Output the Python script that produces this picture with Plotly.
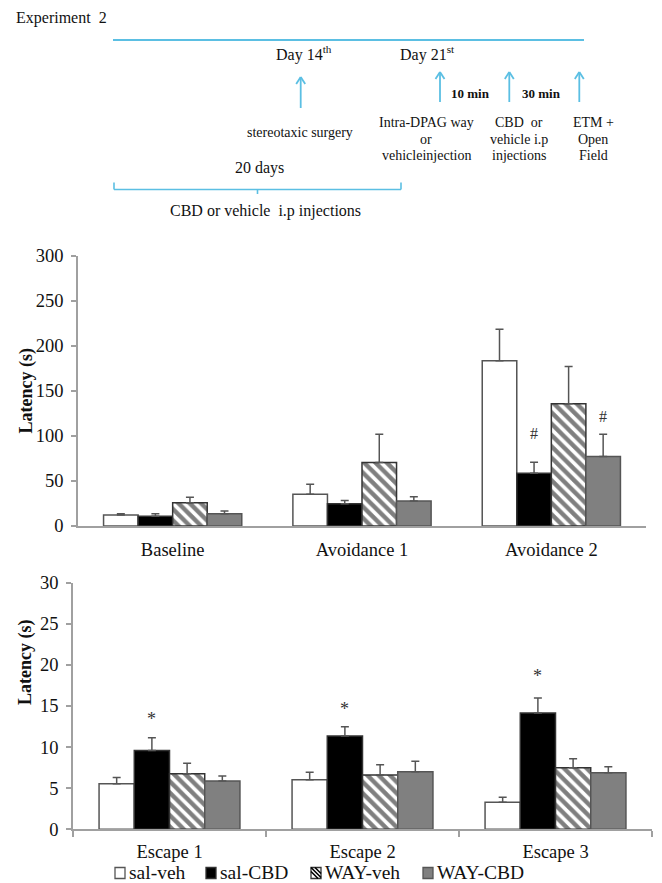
import plotly.graph_objects as go

W, H = 662, 883

# ---------------- data ----------------
phases = ["Baseline", "Avoidance 1", "Avoidance 2"]
escapes = ["Escape 1", "Escape 2", "Escape 3"]
groups = ["sal-veh", "sal-CBD", "WAY-veh", "WAY-CBD"]

avoid_sal_veh = [12.2, 35.2, 183.3]
avoid_sal_cbd = [10.7, 24.8, 58.5]
avoid_way_veh = [25.9, 70.4, 135.6]
avoid_way_cbd = [13.7, 27.8, 77.0]
avoid_err_sal_veh = [1.5, 11.1, 35.2]
avoid_err_sal_cbd = [3.0, 3.4, 12.3]
avoid_err_way_veh = [6.0, 31.5, 41.4]
avoid_err_way_cbd = [3.0, 4.8, 24.9]

esc_sal_veh = [5.55, 6.04, 3.28]
esc_sal_cbd = [9.6, 11.35, 14.15]
esc_way_veh = [6.77, 6.6, 7.5]
esc_way_cbd = [5.88, 7.01, 6.89]
esc_err_sal_veh = [0.75, 0.89, 0.61]
esc_err_sal_cbd = [1.55, 1.13, 1.82]
esc_err_way_veh = [1.26, 1.26, 1.09]
esc_err_way_cbd = [0.61, 1.26, 0.73]

# significance marks: (category index, group index, y value, symbol)
avoid_marks = [(2, 1, 103, "#"), (2, 3, 122, "#")]
esc_marks = [(0, 1, 13.4, "*"), (1, 1, 14.6, "*"), (2, 1, 18.6, "*")]

# ---------------- style ----------------
SERIF = "Liberation Serif, Times New Roman, serif"
AXIS_GRAY = "#a0a0a0"
TXT = "#111111"
BLUE = "#5bbfe3"
BARGAP = 0.27

fills = ["white", "black", "white", "#808080"]
edges = ["#555555", "#333333", "#333333", "#555555"]


def marker_style(i):
    m = dict(color=fills[i], line=dict(color=edges[i], width=1.5))
    if i == 2:
        m["pattern"] = dict(shape="\\", fgcolor="black", bgcolor="white", size=8, solidity=0.55)
    return m


def px(x):
    return x / W


def py(y):
    return 1 - y / H


fig = go.Figure()

avoid_vals = [avoid_sal_veh, avoid_sal_cbd, avoid_way_veh, avoid_way_cbd]
avoid_errs = [avoid_err_sal_veh, avoid_err_sal_cbd, avoid_err_way_veh, avoid_err_way_cbd]
esc_vals = [esc_sal_veh, esc_sal_cbd, esc_way_veh, esc_way_cbd]
esc_errs = [esc_err_sal_veh, esc_err_sal_cbd, esc_err_way_veh, esc_err_way_cbd]

for i, g in enumerate(groups):
    fig.add_trace(go.Bar(
        x=phases, y=avoid_vals[i], name=g, marker=marker_style(i), showlegend=False,
        legendgroup=g, xaxis="x", yaxis="y",
        error_y=dict(type="data", symmetric=False, array=avoid_errs[i],
                     arrayminus=[0] * len(phases), color="#555555", thickness=1.5, width=4),
    ))
for i, g in enumerate(groups):
    fig.add_trace(go.Bar(
        x=escapes, y=esc_vals[i], name=g, marker=marker_style(i), showlegend=False,
        legendgroup=g, xaxis="x2", yaxis="y2",
        error_y=dict(type="data", symmetric=False, array=esc_errs[i],
                     arrayminus=[0] * len(escapes), color="#555555", thickness=1.5, width=4),
    ))

# bar centre offsets within a group (category units)
gw = 1 - BARGAP
def offset(k):
    return -gw / 2 + (k + 0.5) * gw / len(groups)

annotations = []
for ci, gi, yv, s in avoid_marks:
    annotations.append(dict(x=ci + offset(gi), y=yv, xref="x", yref="y", text=s,
                            showarrow=False, font=dict(family=SERIF, size=16, color="#333")))
for ci, gi, yv, s in esc_marks:
    annotations.append(dict(x=ci + offset(gi), y=yv, xref="x2", yref="y2", text=s,
                            showarrow=False, font=dict(family=SERIF, size=18, color="#333")))

# y-axis titles
for yc in (391, 707):
    annotations.append(dict(x=px(13), y=py(yc), xref="paper", yref="paper",
                            text="<b>Latency (s)</b>", textangle=-90, showarrow=False,
                            font=dict(family=SERIF, size=18, color=TXT)))

shapes = []


def label(text, x, y, size=14, anchor="center", bold=False):
    t = f"<b>{text}</b>" if bold else text
    annotations.append(dict(x=px(x), y=py(y), xref="paper", yref="paper", text=t,
                            showarrow=False, xanchor=anchor, yanchor="middle",
                            font=dict(family=SERIF, size=size, color=TXT)))


def seg(x0, y0, x1, y1, w=2, color=BLUE):
    shapes.append(dict(type="line", xref="paper", yref="paper",
                       x0=px(x0), y0=py(y0), x1=px(x1), y1=py(y1),
                       line=dict(color=color, width=w)))


# ---------------- legend (drawn as keys + labels) ----------------
legend_key_x = [115, 206, 311, 423]
LEG_Y0, LEG_Y1 = 867.5, 878.5
for i, g in enumerate(groups):
    x0 = legend_key_x[i]
    x1 = x0 + 10
    shapes.append(dict(type="rect", xref="paper", yref="paper",
                       x0=px(x0), x1=px(x1), y0=py(LEG_Y1), y1=py(LEG_Y0),
                       fillcolor=fills[i], line=dict(color=edges[i], width=1.3)))
    if i == 2:
        for d in (-4, 0, 4):
            a0 = max(0, d)
            a1 = min(10, 11 + d)
            seg(x0 + a0, LEG_Y0 + a0 - d, x0 + a1, LEG_Y0 + a1 - d, 1.6, "black")
    label(g, x1 + 2, 872.5, size=19.5, anchor="left")

# ---------------- timeline (schematic) ----------------
label("Experiment  2", 14, 18, size=16, anchor="left")
label("Day 14<sup>th</sup>", 304, 54, size=16)
label("Day 21<sup>st</sup>", 428, 54, size=16)
label("stereotaxic surgery", 300, 132, size=14)
label("10 min", 470, 93, size=13, bold=True)
label("30 min", 541, 93, size=13, bold=True)
for j, t in enumerate(["Intra-DPAG way", "or", "vehicleinjection"]):
    label(t, 426, 123 + 16 * j, size=14)
for j, t in enumerate(["CBD  or", "vehicle i.p", "injections"]):
    label(t, 519, 123 + 16 * j, size=14)
for j, t in enumerate(["ETM +", "Open", "Field"]):
    label(t, 593, 123 + 16 * j, size=14)
label("20 days", 259, 168, size=16)
label("CBD or vehicle  i.p injections", 265, 211, size=16)

seg(113, 40, 584, 40, 2)
for ax, top, bot in [(300.7, 77, 108), (440, 72, 102), (509.3, 72, 102), (579.3, 72, 102)]:
    seg(ax, top, ax, bot, 1.8)
    seg(ax - 4.5, top + 7, ax, top, 1.8)
    seg(ax + 4.5, top + 7, ax, top, 1.8)
# brace
seg(114, 189.5, 401, 189.5, 1.6)
seg(114, 182.5, 114, 189.5, 1.6)
seg(401, 182.5, 401, 189.5, 1.6)
seg(257.5, 189.5, 257.5, 194, 1.6)

axis_font = dict(family=SERIF, size=18.5, color=TXT)

fig.update_layout(
    width=W, height=H,
    margin=dict(l=0, r=0, t=0, b=0, autoexpand=False),
    paper_bgcolor="white", plot_bgcolor="white",
    barmode="group", bargap=BARGAP, bargroupgap=0,
    showlegend=False,
    font=dict(family=SERIF, color=TXT),
    annotations=annotations, shapes=shapes,
    xaxis=dict(domain=[px(78), px(646)], anchor="y", range=[-0.5, 2.5],
               showline=True, linecolor=AXIS_GRAY, linewidth=1.5, ticks="",
               tickfont=axis_font, ticklabelstandoff=6, showgrid=False),
    yaxis=dict(domain=[py(526), py(255.7)], anchor="x", range=[0, 300], dtick=50,
               showline=True, linecolor=AXIS_GRAY, linewidth=1.5, ticks="outside",
               ticklen=5, tickcolor=AXIS_GRAY, tickwidth=1.5, tickfont=axis_font,
               ticklabelstandoff=4, showgrid=False, zeroline=False),
    xaxis2=dict(domain=[px(73), px(652)], anchor="y2", range=[-0.5, 2.5],
                showline=True, linecolor=AXIS_GRAY, linewidth=1.5, ticks="outside",
                tickson="boundaries", ticklen=6, tickcolor=AXIS_GRAY, tickwidth=1.5,
                tickfont=axis_font, ticklabelstandoff=5, showgrid=False),
    yaxis2=dict(domain=[py(829.3), py(582.7)], anchor="x2", range=[0, 30], dtick=5,
                showline=True, linecolor=AXIS_GRAY, linewidth=1.5, ticks="outside",
                ticklen=5, tickcolor=AXIS_GRAY, tickwidth=1.5, tickfont=axis_font,
                ticklabelstandoff=4, showgrid=False, zeroline=False),
)

fig.write_html("out.html", config={"displayModeBar": False},
               post_script="document.body.style.margin='0px';")
